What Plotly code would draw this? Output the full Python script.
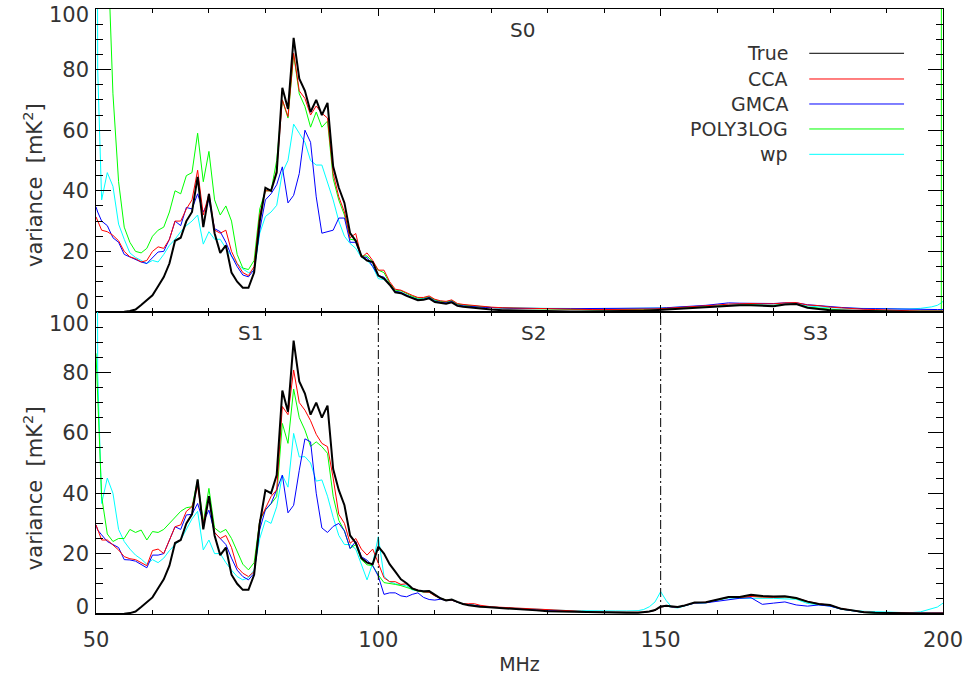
import plotly.graph_objects as go
from plotly.subplots import make_subplots

# ---------------- data ----------------
# frequency channels (MHz)
freq = ([50, 50.3] + list(range(51, 121)) + list(range(122, 147, 2))
        + list(range(147, 154)) + list(range(154, 199, 2)) + [199, 199.7, 200])

# ---- panel S0 (top) ----
true_s0 = [0, 0, 0, 0, 0, 0, 0.1, 0.3, 0.8, 2.3,
           4, 5.5, 8.5, 11.5, 16, 23.5, 24.5, 30, 33, 44.6,
           28, 39, 26, 19.5, 22, 13, 10, 8, 8, 13,
           30, 41, 40, 46, 74, 67, 90.5, 77, 73, 66,
           70, 65, 69, 48, 41, 36, 26, 23.5, 18.5, 17,
           16.5, 12, 11, 9, 6.5, 6.2, 5.3, 4.5, 3.9, 4,
           4.5, 3.3, 2.9, 2.7, 3.2, 2, 1.7, 1.5, 1.3, 1.1,
           0.9, 0.8,
           0.6, 0.5, 0.4, 0.3, 0.3, 0.2, 0.2, 0.2, 0.2, 0.2, 0.2, 0.3, 0.3,
           0.4, 0.5, 0.6, 0.8, 0.9, 1, 1.1,
           1.2, 1.3, 1.5, 1.7, 2.1, 2.2, 2.2, 2.1, 1.9, 2.5,
           2.6, 1.4, 1, 0.6, 0.5, 0.4, 0.3, 0.2, 0.1, 0.1,
           0.1, 0.1, 0.1,
           0.1, 0.1, 0.1]
cca_s0 = [31.4, 30, 27, 26.5, 25.3, 23.5, 20, 18.2, 17.6, 16.5,
          17, 20, 21.5, 21, 24, 30, 30, 34, 37, 46.8,
          32, 39, 27, 26, 27, 20, 16, 13, 12, 15,
          32, 40, 40, 46.8, 70, 64.5, 85.4, 73, 70.5, 65,
          68, 65.6, 64, 45.7, 38, 33, 24.5, 25.9, 18, 19.5,
          17, 13.8, 13.8, 10, 7.5, 7.2, 6.3, 5.5, 4.8, 4.8,
          5.3, 4.2, 3.7, 3.5, 4, 2.8, 2.5, 2.3, 2.1, 1.9,
          1.7, 1.6,
          1.4, 1.3, 1.2, 1.1, 1, 0.9, 0.9, 0.8, 0.8, 0.8, 0.8, 0.8, 0.9,
          0.9, 1, 1, 1.1, 1.2, 1.3, 1.4,
          1.5, 1.7, 2, 2.3, 2.6, 2.8, 2.8, 2.7, 2.7, 3,
          3.1, 2.3, 2.1, 1.6, 1.3, 1, 0.9, 0.8, 0.6, 0.5,
          0.4, 0.3, 0.3,
          0.3, 0.3, 0.3]
gmca_s0 = [34.7, 33, 30, 28.5, 24.5, 23, 19, 18.2, 17.5, 16.5,
           16, 18, 19.8, 20, 24, 30, 28.5, 34.5, 34, 39,
           33, 36.9, 27.5, 26.5, 23, 18.5, 15, 12.2, 11.6, 14,
           27, 37, 39, 42, 47.9, 36, 38.5, 45.7, 60, 56,
           38, 26, 26.5, 27, 31, 31, 23, 23, 18.2, 18,
           15, 12, 11.5, 9, 6.8, 6.5, 5.5, 4.7, 4.1, 4.2,
           4.8, 3.6, 3.2, 3, 3.5, 2.3, 2, 1.8, 1.7, 1.6,
           1.5, 1.4,
           1.3, 1.2, 1.2, 1.1, 1.1, 1.1, 1.1, 1.1, 1.1, 1.1, 1.1, 1.1, 1.2,
           1.2, 1.2, 1.3, 1.3, 1.4, 1.5, 1.6,
           1.7, 1.9, 2.2, 2.6, 3, 2.9, 2.8, 2.8, 2.8, 3,
           3, 2.4, 2, 1.8, 1.5, 1.2, 1.1, 1.1, 1, 1,
           0.9, 0.9, 0.8,
           0.8, 0.8, 0.8]
poly_s0 = [300, 260, 200, 125, 72, 43, 28, 23, 20, 19.5,
           21, 25, 27, 28, 33, 40, 39, 45, 46, 59,
           43, 53, 37, 32, 35, 30, 19, 14.5, 14, 17,
           34, 40, 40, 50, 70, 64, 85, 72, 67.8, 61,
           66, 61, 63, 44, 36.9, 32, 24, 23.7, 18.5, 18.5,
           16.5, 13.8, 13, 9.5, 7.2, 7, 6, 5.2, 4.6, 4.6,
           5, 4, 3.5, 3.3, 3.8, 2.6, 2.3, 2.1, 1.9, 1.7,
           1.6, 1.5,
           1.3, 1.2, 1.1, 1, 0.9, 0.8, 0.7, 0.7, 0.7, 0.7, 0.7, 0.7, 0.7,
           0.8, 0.8, 0.9, 1, 1.1, 1.2, 1.3,
           1.4, 1.5, 1.7, 1.9, 2.2, 2.3, 2.3, 2.2, 2.1, 2.6,
           2.7, 1.6, 1.2, 0.8, 0.6, 0.5, 0.4, 0.3, 0.3, 0.3,
           0.3, 0.3, 0.3,
           0.3, 0.3, 5000]
wp_s0 = [400, 80, 37, 46, 41.5, 29, 24, 19.5, 18, 17,
         16, 17, 16.5, 19, 22, 24, 26.5, 28.5, 30, 32,
         22.4, 26.5, 24, 24, 21, 18.5, 16, 14.2, 13, 13.5,
         26, 31.5, 33, 35.2, 46, 50, 62, 59, 56, 50,
         48.5, 48.5, 43, 37, 30, 25, 22.6, 21, 18, 17,
         15, 11, 10.7, 9.2, 6.8, 6.5, 5.5, 4.8, 4.3, 4.4,
         5, 3.9, 3.5, 3.3, 3.8, 2.6, 2.3, 2.1, 1.9, 1.7,
         1.6, 1.5,
         1.4, 1.3, 1.3, 1.2, 1.2, 1.2, 1.1, 1.1, 1.1, 1.1, 1.1, 1.2, 1.2,
         1.2, 1.2, 1.2, 1.3, 1.4, 1.5, 1.6,
         1.7, 1.8, 2, 2.2, 2.4, 2.5, 2.5, 2.4, 2.3, 2.5,
         2.6, 2, 1.6, 1.4, 1.3, 1.2, 1.1, 1, 1, 1,
         1, 1.2, 1.7,
         2.2, 3, 3.5]

# ---- panel S1/S2/S3 (bottom) ----
true_s123 = [0, 0, 0, 0, 0, 0, 0.1, 0.3, 0.8, 2.3,
             4, 5.5, 8.5, 11.5, 16, 23.5, 24.5, 30, 33, 44.6,
             28, 39, 26, 19.5, 22, 13, 10, 8, 8, 13,
             30, 41, 40, 46, 74, 67, 90.5, 77, 73, 66,
             70, 65, 69, 48, 41, 36, 26, 23.5, 18.5, 17,
             16.5, 22.3, 20, 16.5, 14, 11.5, 10.2, 8.5, 7.8, 7.5,
             7.6, 6.5, 5.2, 4.5, 4.8, 4, 3.3, 2.9, 2.6, 2.4,
             2.3, 2.2,
             2, 1.7, 1.5, 1.2, 0.9, 0.8, 0.7, 0.6, 0.55, 0.5, 0.45, 0.4, 0.4,
             0.5, 0.8, 1.3, 2.5, 2.7, 2.4, 2.3,
             2.7, 3.8, 3.9, 4.8, 5.6, 5.6, 6.4, 6, 5.8, 5.9,
             5.3, 4.1, 3.3, 3, 1.7, 1.2, 0.6, 0.4, 0.3, 0.3,
             0.2, 0.2, 0.2,
             0.2, 0.2, 0.2]
cca_s123 = [29.5, 27.8, 24.5, 24.5, 23, 21.2, 19, 18.3, 18, 17,
            16, 21, 21.5, 20, 24.5, 28.9, 29.5, 34, 35.5, 42.2,
            30, 38.9, 27, 25, 26, 22, 15.5, 13.5, 12.4, 14,
            31, 35, 38.9, 41.1, 68.7, 66, 80.8, 70, 67.5, 64,
            59.5, 56.5, 55.4, 45, 33, 30, 23.4, 25, 21.5, 19.5,
            21.5, 16.8, 12, 10.7, 10.7, 9.8, 10, 8.5, 7.8, 7.3,
            7.2, 6, 5.2, 4.6, 4.6, 4, 3.3, 3.4, 3.4, 2.9,
            2.6, 2.4,
            2.2, 2, 1.8, 1.5, 1.3, 1.1, 0.9, 0.8, 0.7, 0.6, 0.6, 0.5, 0.5,
            0.6, 0.8, 1.2, 2.3, 2.6, 2.4, 2.3,
            2.7, 3.7, 3.9, 4.7, 5.5, 5.5, 5.8, 5.6, 5.5, 5.7,
            5.3, 4.2, 3.4, 2.9, 1.8, 1.2, 0.7, 0.5, 0.4, 0.4,
            0.3, 0.3, 0.3,
            0.3, 0.3, 0.3]
gmca_s123 = [29.5, 27.8, 26.2, 24, 23, 22, 18, 17.9, 17.5, 16.5,
             15.3, 19.5, 19.5, 20, 24.5, 28.9, 28, 32.8, 33, 36.6,
             30.5, 34.4, 27, 25, 23, 18.5, 14.5, 12.4, 11.3, 13.5,
             28, 34.5, 36.6, 41.1, 46, 33.5, 36, 47.6, 58, 57,
             40, 28.5, 27, 29, 30, 27.5, 21.7, 24, 19, 17.8,
             16, 12.5, 6.5, 7, 7, 6, 5.7, 6.5, 7, 5.5,
             4.8, 4.6, 4.9, 4.5, 4.6, 3.9, 3.3, 3.1, 2.8, 2.6,
             2.4, 2.3,
             2, 1.8, 1.6, 1.4, 1.2, 1, 0.8, 0.7, 0.6, 0.6, 0.5, 0.5, 0.5,
             0.5, 0.8, 1.2, 2.3, 2.6, 2.3, 2.2,
             2.6, 3.6, 3.7, 4.2, 4.8, 5.2, 5.4, 3.2, 3.6, 4,
             3, 2.6, 3, 2.6, 1.6, 1.1, 0.5, 0.4, 0.3, 0.3,
             0.3, 0.3, 0.3,
             0.3, 0.3, 0.3]
poly_s123 = [86.3, 72, 38.9, 26.5, 24, 25, 25, 28, 27, 27.8,
             24.5, 27.3, 27, 28, 30, 32.2, 34, 35.2, 35.5, 44.4,
             30.5, 41.6, 28.5, 27, 28, 25, 20.5, 16.5, 14.6, 17,
             31, 34.4, 36.5, 38.9, 63.1, 56.5, 74.5, 65, 60.9, 55.5,
             57, 55.4, 53.2, 39, 31, 27.5, 21.7, 23, 18, 16.3,
             16, 12.9, 10.4, 10.2, 9.8, 9.4, 8.8, 8, 7.6, 7.3,
             7.3, 6.1, 5.2, 4.6, 4.8, 3.9, 3.3, 3.1, 2.8, 2.6,
             2.4, 2.3,
             2, 1.8, 1.6, 1.4, 1.2, 1, 0.8, 0.7, 0.6, 0.6, 0.5, 0.5, 0.5,
             0.5, 0.8, 1.2, 2.3, 2.6, 2.3, 2.2,
             2.6, 3.7, 3.8, 4.6, 5.5, 5.3, 5.9, 5.7, 5.6, 5.7,
             5.1, 4, 3.2, 2.8, 1.6, 1.1, 0.5, 0.3, 0.2, 0.2,
             0.2, 0.2, 0.2,
             0.2, 0.2, 0.2]
wp_s123 = [400, 80, 36.6, 45, 40, 28, 24, 21.5, 19.5, 18.2,
           16.5, 18, 17, 18.5, 21, 23, 24.5, 28, 31.5, 34,
           21.2, 24.5, 20, 20, 17, 14.5, 12.4, 11.3, 12, 14.6,
           25, 31, 30, 35.5, 46, 42, 59.8, 52, 52.1, 50,
           44, 44.4, 39, 32, 26, 23, 23, 21.5, 16.5, 11.3,
           16.8, 25.6, 12.5, 10.7, 10, 9.6, 9.3, 8, 7.6, 7.3,
           7.3, 6.1, 5.2, 4.6, 4.8, 3.9, 3.3, 3.1, 2.8, 2.6,
           2.4, 2.3,
           2.1, 1.9, 1.7, 1.5, 1.3, 1.2, 1.1, 1.1, 1, 1, 1, 1, 1.1,
           1.5, 2.4, 4, 7.4, 4.4, 2.2, 2,
           2.5, 3.6, 3.7, 4.5, 5.3, 5.2, 5.2, 5.3, 5.2, 5,
           4.9, 3.5, 3, 2.6, 1.6, 1.2, 0.9, 0.8, 0.6, 0.5,
           0.4, 0.7, 1.6,
           2.3, 3.2, 3.6]

series_names = ["True", "CCA", "GMCA", "POLY3LOG", "wp"]
series_colors = ["#000000", "#ff0000", "#0000ff", "#00ff00", "#00ffff"]
panel_s0 = [true_s0, cca_s0, gmca_s0, poly_s0, wp_s0]
panel_s123 = [true_s123, cca_s123, gmca_s123, poly_s123, wp_s123]

segment_edges = [100, 150]
panel_labels = [("S0", 125.6, 1), ("S1", 77.3, 2), ("S2", 127.4, 2), ("S3", 177.5, 2)]
y_tick_text = ["0", "20", "40", "60", "80", "100"]

for arr in panel_s0 + panel_s123:
    assert len(arr) == len(freq), len(arr)

# ---------------- figure ----------------
FONT = "DejaVu Sans, Liberation Sans, sans-serif"
TXT = "#333333"

fig = make_subplots(rows=2, cols=1, shared_xaxes=True, vertical_spacing=0)

draw_order = [4, 3, 2, 1, 0]
for row, panel in ((1, panel_s0), (2, panel_s123)):
    for i in draw_order:
        fig.add_trace(go.Scatter(
            x=freq, y=panel[i], mode="lines", name=series_names[i],
            line=dict(color=series_colors[i], width=2 if i == 0 else 1),
            showlegend=False, hoverinfo="skip"), row=row, col=1)

# dummy traces for label-only overlay axes
fig.add_trace(go.Scatter(x=[None], y=[None], xaxis="x", yaxis="y3", showlegend=False, hoverinfo="skip"))
fig.add_trace(go.Scatter(x=[None], y=[None], xaxis="x2", yaxis="y4", showlegend=False, hoverinfo="skip"))

x_common = dict(range=[50, 200], showline=True, linecolor="black", linewidth=1,
                mirror="ticks", ticks="inside", ticklen=7, tickwidth=1, tickcolor="black",
                tick0=50, dtick=50, showgrid=False, zeroline=False, automargin=False,
                minor=dict(dtick=10, ticklen=4, ticks="inside", tickcolor="black", tickwidth=1, showgrid=False))
y_common = dict(range=[0, 100], showline=True, linecolor="black", linewidth=1,
                mirror="ticks", ticks="inside", ticklen=15, tickwidth=1, tickcolor="black",
                tick0=0, dtick=20, showgrid=False, zeroline=False, showticklabels=False,
                automargin=False,
                minor=dict(dtick=5, ticklen=7, ticks="inside", tickcolor="black", tickwidth=1, showgrid=False))

fig.update_layout(
    width=964, height=677, autosize=False,
    margin=dict(l=96, r=21, t=9, b=63),
    paper_bgcolor="white", plot_bgcolor="white",
    font=dict(family=FONT, size=19, color=TXT),
    showlegend=False,
)
fig.update_layout(
    xaxis=dict(**x_common, showticklabels=False),
    xaxis2=dict(**x_common, showticklabels=True, ticklabelstandoff=7,
                tickfont=dict(family=FONT, size=21, color=TXT),
                title=dict(text="MHz", standoff=6, font=dict(family=FONT, size=19, color=TXT))),
    yaxis=dict(**y_common, domain=[0.4992, 1]),
    yaxis2=dict(**y_common, domain=[0, 0.4992]),
)

label_axis = dict(range=[0, 100], tickmode="array", ticks="", showline=False, showgrid=False,
                  zeroline=False, side="left", ticklabelstandoff=6, automargin=False,
                  tickfont=dict(family=FONT, size=21, color=TXT))
fig.update_layout(
    yaxis3=dict(**label_axis, overlaying="y", anchor="x",
                tickvals=[3.3, 20, 40, 60, 80, 98], ticktext=y_tick_text),
    yaxis4=dict(**label_axis, overlaying="y2", anchor="x2",
                tickvals=[2.3, 20, 40, 60, 80, 96], ticktext=y_tick_text),
)

# y-axis titles (placed as rotated text, lower than the panel centre as in the original)
ylab = "variance\u00a0\u00a0[mK<sup>2</sup>]"
for yy in (0.709, 0.208):
    fig.add_annotation(text=ylab, x=-0.0744, y=yy, xref="paper", yref="paper",
                       textangle=-90, showarrow=False, xanchor="center", yanchor="middle",
                       font=dict(family=FONT, size=21, color=TXT))

# segment boundaries in lower panel
for edge in segment_edges:
    fig.add_shape(type="line", xref="x2", yref="y2 domain", x0=edge, x1=edge, y0=0, y1=1,
                  line=dict(color="black", width=1, dash="9px,3px,2px,3px"))

# panel labels
for text, xv, row in panel_labels:
    fig.add_annotation(text=text, x=xv, y=93, xref="x" if row == 1 else "x2",
                       yref="y" if row == 1 else "y2", showarrow=False,
                       font=dict(family=FONT, size=20, color=TXT))

# legend (labels right of which sample lines are drawn)
leg_y = [0.9268, 0.8843, 0.8430, 0.8017, 0.7598]
for name, col, yy in zip(series_names, series_colors, leg_y):
    fig.add_annotation(text=name, x=0.8194, y=yy, xref="paper", yref="paper",
                       xanchor="right", yanchor="middle", showarrow=False,
                       font=dict(family=FONT, size=19, color=TXT))
    fig.add_shape(type="line", xref="paper", yref="paper", x0=0.8421, x1=0.954, y0=yy, y1=yy,
                  line=dict(color=col, width=1))

fig.write_html("out.html", config={"displayModeBar": False, "responsive": False},
               post_script="document.body.style.margin='0px';document.body.style.overflow='hidden';")
